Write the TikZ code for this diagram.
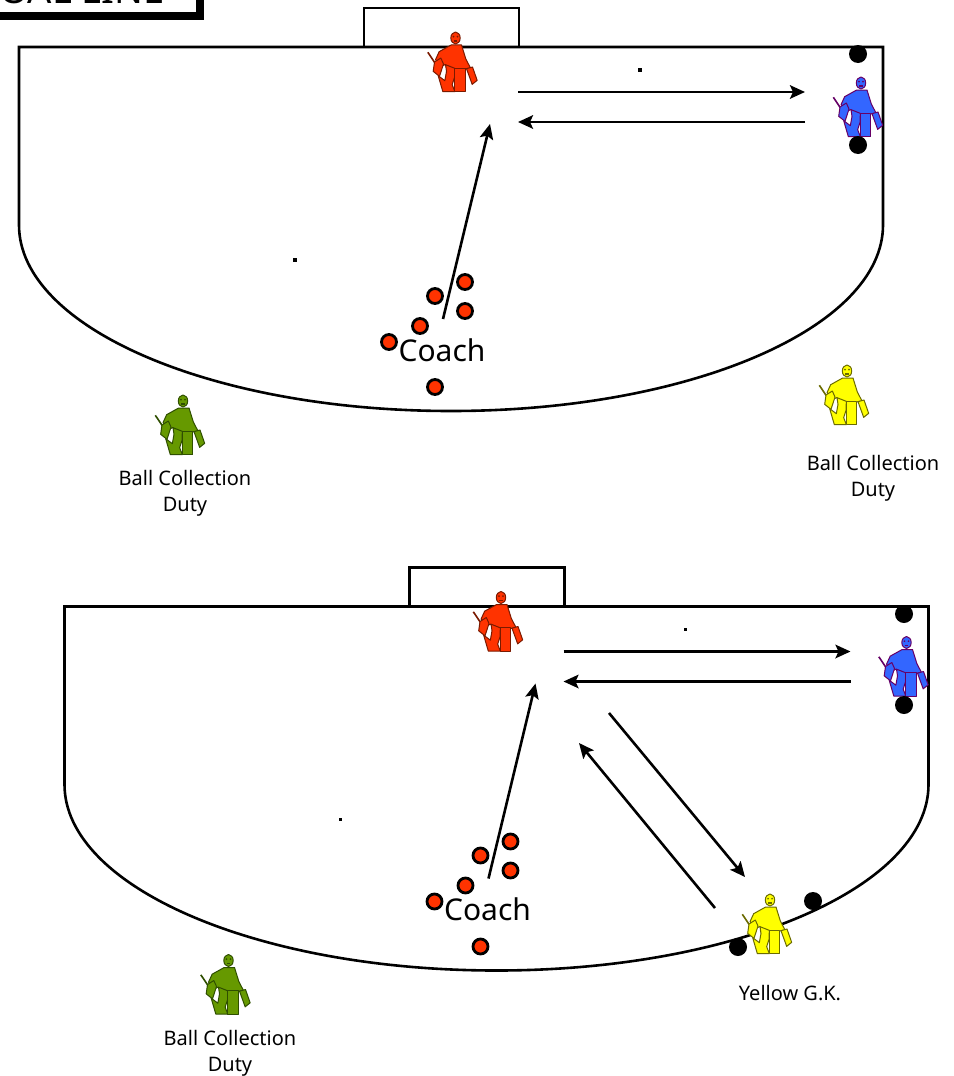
\documentclass[tikz,border=0pt]{standalone}
\usepackage{fontspec}
\setmainfont{Noto Sans}
\usetikzlibrary{arrows.meta}
\definecolor{kred}{HTML}{FF3300}\definecolor{kredl}{HTML}{7A1A00}
\definecolor{kblue}{HTML}{3366FF}\definecolor{kbluel}{HTML}{660066}
\definecolor{kyel}{HTML}{FFFF00}\definecolor{kyell}{HTML}{6B6B00}
\definecolor{kgrn}{HTML}{669900}\definecolor{kgrnl}{HTML}{2F4F00}
\tikzset{
 x=1pt,y=-1pt,
 pitchline/.style={draw=black,line width=2.6pt,line join=miter},
 flow/.style={draw=black,line width=2.6pt,-{Stealth[length=15pt,width=13.5pt,inset=3pt]}},
 redball/.style={circle,draw=black,fill=kred,line width=2.8pt,minimum size=15pt,inner sep=0pt},
 blackball/.style={circle,fill=black,minimum size=18pt,inner sep=0pt},
 caption/.style={font=\fontsize{20}{26}\selectfont,align=center,text=black,inner sep=0pt},
 coachlabel/.style={font=\fontsize{30}{32}\selectfont,text=black,inner sep=0pt},
 speck/.style={fill=black,minimum size=3.5pt,inner sep=0pt},
}
% keeper: #1 head x, #2 head y, #3 fill, #4 line, #5 name
\newcommand{\keeper}[5]{%
\begin{scope}[shift={(#1,#2)},x=0.3333pt,y=-0.3333pt,line width=1pt,draw=#4,fill=#3,line join=round]
 \coordinate (#5) at (0,0);
 \fill[white] (-36,80) -- (-48,112) -- (-32,128) -- (-27,100) -- cycle;
 \draw[line width=1.6pt,draw=#4] (-83,43) -- (-50,92);
 \filldraw (-13,21) -- (18,21) -- (31,63) -- (45,90) -- (28,93) -- (-5,93) -- (-32,80) -- (-42,85) -- (-60,65) -- (-49,41) -- cycle;
 \filldraw (-30,80) -- (-2,91) -- (-3,118) -- (-10,140) -- (-2,161) -- (-38,161) -- (-52,113) -- (-32,128) -- (-27,100) -- cycle;
 \filldraw (-2,91) -- (29,91) -- (29,161) -- (-2,161) -- cycle;
 \filldraw (-63,72) -- (-44,60) -- (-36,78) -- (-48,115) -- (-67,100) -- cycle;
 \filldraw (33,92) -- (51,87) -- (65,127) -- (50,139) -- cycle;
 \filldraw (0,0) ellipse [x radius=14,y radius=18];
 \fill[#4] (-6,-4) circle (2.8) (6,-4) circle (2.8);
 \draw[line width=1.3pt] (-5,9) -- (5,9);
\end{scope}}
% field at offset
\newcommand{\field}[3]{%
\begin{scope}[shift={(#1,#2)}]
 \draw[pitchline] (364,47) -- (364,8) -- (519,8) -- (519,47);
 \draw[pitchline] (19,47) -- (883,47) -- (883,225)
   .. controls (883,327.7) and (689.6,411) .. (451,411)
   .. controls (212.4,411) and (19,327.7) .. (19,225) -- cycle;
 \coordinate (#3a1) at (518,92); \coordinate (#3a2) at (805,92);
 \coordinate (#3b1) at (805,122); \coordinate (#3b2) at (518,122);
 \coordinate (#3c1) at (443,319); \coordinate (#3c2) at (490,124);
 \draw[flow] (#3a1) -- (#3a2);
 \draw[flow] (#3b1) -- (#3b2);
 \draw[flow] (#3c1) -- (#3c2);
 \node[speck] (#3d1) at (640,70) {};
 \node[speck] (#3d2) at (295,260) {};
 \node[redball] (#3r1) at (465,282) {};
 \node[redball] (#3r2) at (435,296) {};
 \node[redball] (#3r3) at (465,311) {};
 \node[redball] (#3r4) at (420,326) {};
 \node[redball] (#3r5) at (389,342) {};
 \node[redball] (#3r6) at (435,387) {};
 \node[coachlabel] (#3coach) at (442,350) {Coach};
\end{scope}}
\begin{document}
\begin{tikzpicture}
\useasboundingbox (0,0) rectangle (953,1076);
\fill[white] (0,0) rectangle (953,1076);
% title box, cut by the top edge
\begin{scope}
 \clip (0,0) rectangle (953,1076);
 \fill[black] (0,0) rectangle (204,20);
 \fill[white] (0,0) rectangle (196,12);
 \node[anchor=base east,inner sep=0pt,font=\fontsize{38}{40}\selectfont\bfseries] (title) at (165,3.5) {GOAL LINE};
\end{scope}
\field{0}{0}{p}
\field{45.5}{559.5}{q}
% top panel players
\keeper{455.5}{38}{kred}{kredl}{k1}
\keeper{861}{83}{kblue}{kbluel}{k2}
\keeper{847}{371}{kyel}{kyell}{k3}
\keeper{183}{401}{kgrn}{kgrnl}{k4}
\node[blackball] (b1) at (858,54) {};
\node[blackball] (b2) at (858,145) {};
\node[caption] (c1) at (185,493) {Ball Collection\\Duty};
\node[caption] (c2) at (873,478) {Ball Collection\\Duty};
% bottom panel players
\keeper{501}{597.5}{kred}{kredl}{k5}
\keeper{906.5}{642.5}{kblue}{kbluel}{k6}
\node[blackball] (b5) at (738,947) {};
\node[blackball] (b6) at (813,901) {};
\keeper{770}{900}{kyel}{kyell}{k7}
\keeper{228.5}{960.5}{kgrn}{kgrnl}{k8}
\node[blackball] (b3) at (904,614) {};
\node[blackball] (b4) at (904,705) {};
\node[caption] (c3) at (230,1053) {Ball Collection\\Duty};
\node[caption] (c4) at (790,993) {Yellow G.K.};
\coordinate (qe1) at (609,713); \coordinate (qe2) at (745,877);
\coordinate (qf1) at (715,908); \coordinate (qf2) at (579,743);
\draw[flow] (qe1) -- (qe2);
\draw[flow] (qf1) -- (qf2);
\end{tikzpicture}
\end{document}
